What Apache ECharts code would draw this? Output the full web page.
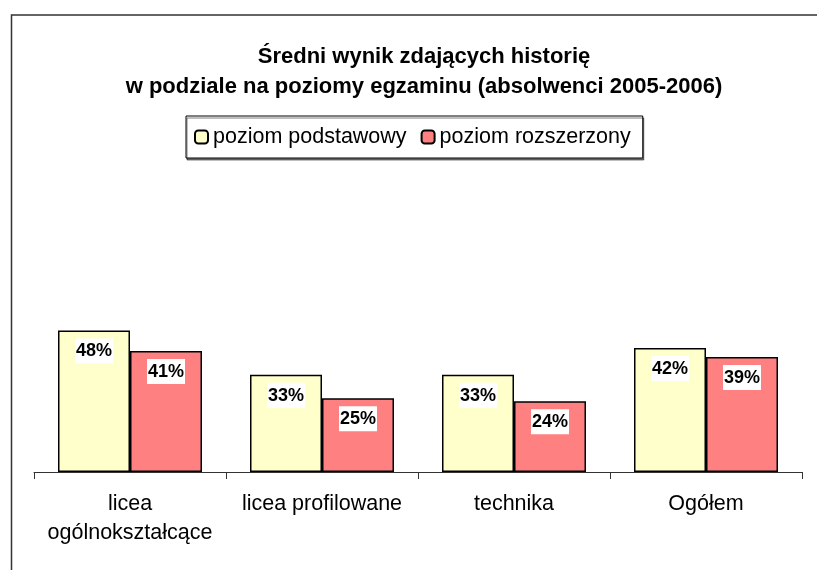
<!DOCTYPE html>
<html>
<head>
<meta charset="utf-8">
<script src="https://cdn.jsdelivr.net/npm/echarts@6/dist/echarts.min.js"></script>
<style>
  html, body { margin: 0; padding: 0; background: #fff; }
  #chart { width: 817px; height: 570px; }
</style>
</head>
<body>
<div id="chart"></div>
<script>
// kategorie i wyniki (%)
const categories = ['licea\nogólnokształcące', 'licea profilowane', 'technika', 'Ogółem'];
const podstawowy = [48, 33, 33, 42];
const rozszerzony = [41, 25, 24, 39];
const seriesNames = ['poziom podstawowy', 'poziom rozszerzony'];

const fontFamily = 'Arial, "Liberation Sans", sans-serif';

const barLabel = {
  show: true,
  position: 'insideTop',
  distance: 8,
  formatter: '{c}%',
  color: '#000',
  fontFamily: fontFamily,
  fontWeight: 'bold',
  fontSize: 18,
  backgroundColor: '#fff',
  padding: [4, 1, 3, 1]
};

const chart = echarts.init(document.getElementById('chart'));

chart.setOption({
  animation: false,
  graphic: [
    {
      // ramka wykresu
      type: 'rect',
      left: 9,
      top: 12.5,
      shape: { x: 0, y: 0, width: 820, height: 600 },
      style: { fill: 'none', stroke: '#333', lineWidth: 1.5 },
      z: -1
    }
  ],
  title: {
    text: 'Średni wynik zdających historię\nw podziale na poziomy egzaminu (absolwenci 2005-2006)',
    left: 419,
    top: 37,
    textAlign: 'center',
    textStyle: {
      fontFamily: fontFamily,
      fontWeight: 'bold',
      fontSize: 22,
      lineHeight: 30,
      color: '#000'
    }
  },
  legend: {
    data: seriesNames,
    left: 186,
    top: 116,
    padding: [10, 12, 10, 8],
    itemGap: 14,
    itemWidth: 13,
    itemHeight: 13,
    borderColor: '#000',
    borderWidth: 1,
    backgroundColor: '#fff',
    shadowColor: 'rgba(0,0,0,0.5)',
    shadowOffsetX: 1,
    shadowOffsetY: 2,
    textStyle: {
      fontFamily: fontFamily,
      fontSize: 21.5,
      color: '#000'
    }
  },
  grid: {
    left: 34,
    right: 15,
    top: 295,
    bottom: 98,
    containLabel: false
  },
  xAxis: {
    type: 'category',
    data: categories,
    axisLine: { lineStyle: { color: '#333', width: 1 } },
    axisTick: { show: true, length: 7, lineStyle: { color: '#333' } },
    axisLabel: {
      interval: 0,
      margin: 18,
      color: '#000',
      fontFamily: fontFamily,
      fontSize: 21.5,
      lineHeight: 29
    }
  },
  yAxis: {
    type: 'value',
    min: 0,
    max: 60,
    show: false,
    splitLine: { show: false }
  },
  series: [
    {
      name: seriesNames[0],
      type: 'bar',
      data: podstawowy,
      barGap: '0%',
      barCategoryGap: '25%',
      itemStyle: { color: '#FFFFCC', borderColor: '#000', borderWidth: 1.5 },
      label: barLabel
    },
    {
      name: seriesNames[1],
      type: 'bar',
      data: rozszerzony,
      barGap: '0%',
      barCategoryGap: '25%',
      itemStyle: { color: '#FF8080', borderColor: '#000', borderWidth: 1.5 },
      label: barLabel
    }
  ]
});
</script>
</body>
</html>
